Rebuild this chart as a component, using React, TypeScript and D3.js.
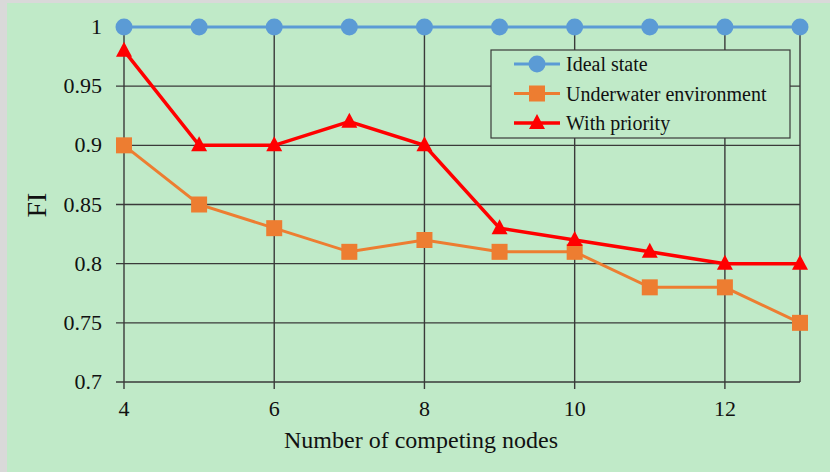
import React from "react";
import * as d3 from "d3";

const nodes = [4, 5, 6, 7, 8, 9, 10, 11, 12, 13];
const idealState = [1, 1, 1, 1, 1, 1, 1, 1, 1, 1];
const underwater = [0.9, 0.85, 0.83, 0.81, 0.82, 0.81, 0.81, 0.78, 0.78, 0.75];
const withPriority = [0.98, 0.9, 0.9, 0.92, 0.9, 0.83, 0.82, 0.81, 0.8, 0.8];
const yTicks = [0.7, 0.75, 0.8, 0.85, 0.9, 0.95, 1];
const xTicks = [4, 6, 8, 10, 12];
const seriesNames = ["Ideal state", "Underwater environment", "With priority"];

const W = 830, H = 472;
const font = "'Liberation Serif', 'Times New Roman', serif";

export default function App() {
  const x = d3.scaleLinear().domain([4, 13]).range([124, 800]);
  const y = d3.scaleLinear().domain([0.7, 1]).range([382, 27]);
  const line = d3.line<number>().x((_, i) => x(nodes[i])).y((d) => y(d));
  const grid = "#3a3a3a";
  const colors = ["#5b9bd5", "#ed7d31", "#ff0000"];
  const widths = [3, 3, 3.5];
  const data = [idealState, underwater, withPriority];

  const marker = (k: number, cx: number, cy: number, key: string) => {
    if (k === 0) return <circle key={key} cx={cx} cy={cy} r={8.5} fill={colors[0]} />;
    if (k === 1) return <rect key={key} x={cx - 8} y={cy - 8} width={16} height={16} fill={colors[1]} />;
    return <path key={key} d={`M${cx},${cy - 9}L${cx + 8},${cy + 6}L${cx - 8},${cy + 6}Z`} fill={colors[2]} />;
  };

  return (
    <svg width={W} height={H} style={{ position: "absolute", left: 0, top: 0 }}>
      <rect x={0} y={0} width={W} height={H} fill="#d9d9d9" />
      <rect x={7} y={3} width={W - 7} height={H - 3} fill="#c0eac8" />
      {yTicks.map((t) => (
        <g key={"y" + t}>
          <line x1={116} x2={800} y1={y(t)} y2={y(t)} stroke={grid} strokeWidth={1.4} />
          <text x={102} y={y(t) + 7} textAnchor="end" fontFamily={font} fontSize={22} fill="#111">
            {String(t)}
          </text>
        </g>
      ))}
      {xTicks.map((t) => (
        <g key={"x" + t}>
          <line x1={x(t)} x2={x(t)} y1={y(1)} y2={389} stroke={grid} strokeWidth={1.4} />
          <text x={x(t)} y={416} textAnchor="middle" fontFamily={font} fontSize={22} fill="#111">
            {t}
          </text>
        </g>
      ))}
      <line x1={x(13)} x2={x(13)} y1={y(1)} y2={y(0.7)} stroke={grid} strokeWidth={1.4} />
      <text x={421} y={448} textAnchor="middle" fontFamily={font} fontSize={24} fill="#111">
        Number of competing nodes
      </text>
      <text transform="translate(46,205) rotate(-90)" textAnchor="middle" fontFamily={font} fontSize={28} fill="#111">
        FI
      </text>
      {data.map((s, k) => (
        <g key={"s" + k}>
          <path d={line(s) || ""} fill="none" stroke={colors[k]} strokeWidth={widths[k]} />
          {s.map((v, i) => marker(k, x(nodes[i]), y(v), `m${k}-${i}`))}
        </g>
      ))}
      <rect x={491} y={50} width={299} height={88} fill="#c0eac8" stroke={grid} strokeWidth={1.2} />
      {seriesNames.map((n, k) => {
        const ly = 64 + k * 29.5;
        return (
          <g key={"l" + k}>
            <line x1={514} x2={560} y1={ly} y2={ly} stroke={colors[k]} strokeWidth={widths[k]} />
            {marker(k, 537, ly, "lm" + k)}
            <text x={566} y={ly + 7} fontFamily={font} fontSize={20} fill="#111">
              {n}
            </text>
          </g>
        );
      })}
    </svg>
  );
}
